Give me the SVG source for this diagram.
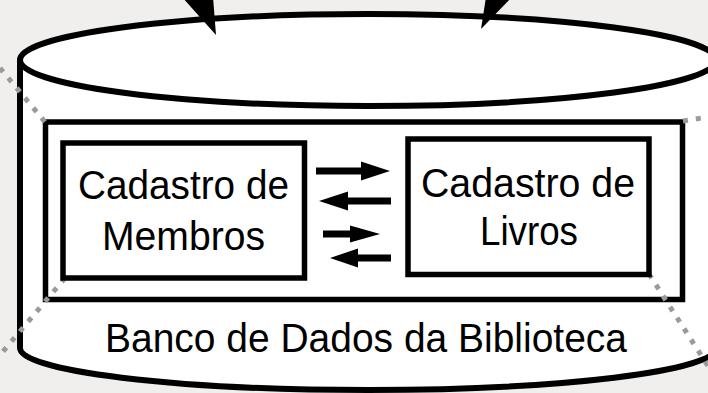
<svg xmlns="http://www.w3.org/2000/svg" width="708" height="393" viewBox="0 0 708 393">
<style>
.bg{fill:#f0efed}
.cyl{fill:#fff;stroke:#000;stroke-width:6;stroke-linejoin:round}
.box{fill:#fff;stroke:#000;stroke-width:5.5}
.dots{fill:none;stroke:#9a9a9a;stroke-width:5;stroke-dasharray:5 8}
.shaft{stroke:#000;stroke-width:7;fill:none}
.head{fill:#000}
.lbl{font-family:"Liberation Sans",Arial,Helvetica,sans-serif;font-size:41px;fill:#000;text-anchor:middle}
</style>
<rect class="bg" x="0" y="0" width="708" height="393"/>
<g id="database">
<path class="cyl" d="M20,60 V348 A348,42 0 0 0 716,348 V60 Z"/>
<ellipse class="cyl" cx="368" cy="60" rx="348" ry="46"/>
<rect class="box" x="45.5" y="122" width="637" height="177.5"/>
<text class="lbl" x="366" y="352" textLength="522" lengthAdjust="spacingAndGlyphs">Banco de Dados da Biblioteca</text>
</g>
<g id="guides">
<line class="dots" x1="0" y1="68" x2="45" y2="122"/>
<line class="dots" x1="65" y1="278" x2="0" y2="355"/>
<line class="dots" x1="683" y1="121" x2="708" y2="117"/>
<line class="dots" x1="649" y1="274" x2="708" y2="366"/>
</g>
<g id="cadastro-membros">
<rect class="box" x="63" y="143" width="241.5" height="135"/>
<text class="lbl" x="183.5" y="199" textLength="211" lengthAdjust="spacingAndGlyphs">Cadastro de</text>
<text class="lbl" x="183.5" y="250" textLength="163" lengthAdjust="spacingAndGlyphs">Membros</text>
</g>
<g id="cadastro-livros">
<rect class="box" x="408" y="139" width="241" height="135.5"/>
<text class="lbl" x="528" y="197" textLength="214" lengthAdjust="spacingAndGlyphs">Cadastro de</text>
<text class="lbl" x="529" y="245" textLength="98" lengthAdjust="spacingAndGlyphs">Livros</text>
</g>
<g id="connectors">
<line class="shaft" x1="316" y1="171" x2="363" y2="171"/>
<path class="head" d="M361,161.5 L390,171 L361,180.5 Z"/>
<line class="shaft" x1="391" y1="201" x2="346" y2="201"/>
<path class="head" d="M348,191.5 L319,201 L348,210.5 Z"/>
<line class="shaft" x1="323" y1="234" x2="352" y2="234"/>
<path class="head" d="M350,225.5 L380,234 L350,242.5 Z"/>
<line class="shaft" x1="391" y1="258" x2="356" y2="258"/>
<path class="head" d="M358,248.5 L330,258 L358,267.5 Z"/>
<path class="head" d="M182,-3 L213,-3 L216,35 Z"/>
<path class="head" d="M486,-3 L512,-3 L481,29 Z"/>
</g>
</svg>
